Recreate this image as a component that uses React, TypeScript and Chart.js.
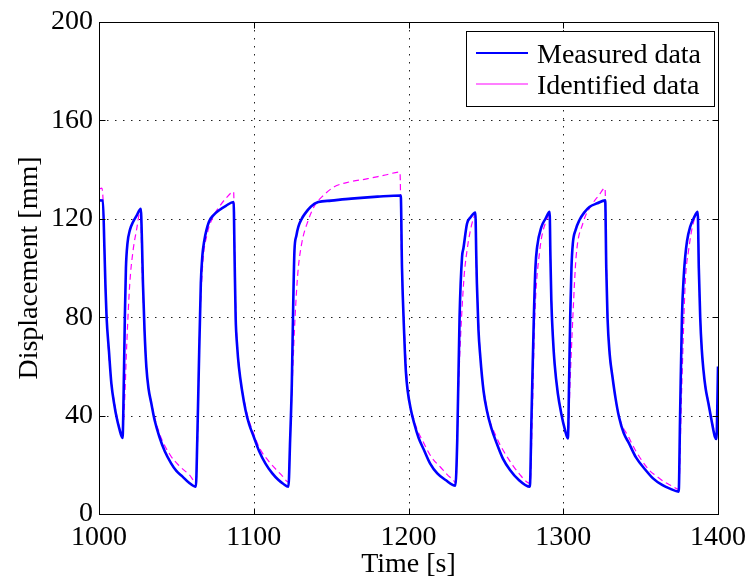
import React, { useEffect, useRef } from "react";
import { Chart, registerables } from "chart.js";

Chart.register(...registerables);

const measuredTime = [
  1000, 1002.5, 1003.5, 1004.2, 1004.9, 1006.4, 1008, 1010, 1011.3, 1013, 1015.2,
  1016.2, 1016.7, 1017.4, 1018.4, 1020, 1022, 1024.5, 1027,
  1027.8, 1028.4, 1029.4, 1030.6, 1032, 1033.8, 1036, 1039, 1042.5, 1046.6, 1050, 1054, 1058, 1062.6,
  1063.5, 1064.3, 1065.8, 1066.8, 1068, 1071, 1074, 1077.6, 1082, 1087,
  1087.6, 1088.3, 1089.3, 1090.4, 1092.5, 1094.7, 1097, 1100, 1103.5, 1107.5, 1112, 1116, 1119, 1122.4,
  1123.5, 1124.6, 1125.5, 1126.3, 1127.5, 1128.8, 1131, 1133, 1137, 1141.7, 1150, 1163, 1180, 1195,
  1195.8, 1197.2, 1198.3, 1199.4, 1201.5, 1203.7, 1206.5, 1210, 1214, 1218.6, 1224, 1230.3,
  1231.5, 1233, 1234.6, 1235.5, 1237.8, 1240, 1243.2,
  1243.8, 1244.2, 1245.2, 1246.4, 1248.5, 1250.6, 1253.5, 1257, 1261, 1265.6, 1271, 1278.4,
  1279.5, 1281, 1282, 1283.1, 1285.9, 1288.5, 1291.2,
  1291.7, 1292.3, 1293.3, 1294.4, 1296.5, 1298.7, 1301, 1303,
  1303.8, 1304.5, 1305.3, 1306.2, 1308, 1310.4, 1313.5, 1316.9, 1322, 1327.1,
  1327.8, 1328.6, 1330, 1331.8, 1333.8, 1336, 1339, 1342.5, 1347, 1353.2, 1358, 1363.9, 1369, 1374.6,
  1375.5, 1376.7, 1378, 1378.8, 1380, 1382, 1384.5, 1386.9,
  1387.6, 1388.5, 1389.5, 1390.6, 1392, 1393.8, 1396, 1398, 1399, 1399.6, 1400,
];
const measuredDisp = [
  127.5, 127.4, 108, 92, 80, 66.5, 53, 44, 39.5, 35, 30.9,
  60, 80, 100, 110, 115.5, 118.7, 121.5, 124.1,
  110, 93.8, 75, 59.8, 51, 45, 38, 31.4, 25.5, 20.6, 17.5, 15.2, 12.8, 11.1,
  30, 53, 93.8, 105, 111, 118.7, 121.5, 123.5, 125.3, 126.8,
  105, 80, 68, 59.8, 50, 42.2, 36.5, 31.4, 25.5, 20.6, 16.5, 13.8, 12.3, 11.1,
  30, 53, 85, 107, 113, 116.7, 120, 122, 125, 126.8, 127.4, 128.2, 129, 129.5,
  100, 73.4, 58, 50.4, 42.5, 36.8, 31, 26, 20.5, 16.5, 13.8, 11.5,
  30, 80, 104.5, 108, 118, 120.5, 122.5,
  105, 93.7, 75, 63.9, 50, 42.2, 35, 28.7, 22.5, 17.9, 14, 11.1,
  40, 80, 100, 108.5, 116.7, 120, 122.8,
  105, 86.9, 72, 61.2, 49, 40.9, 34.5, 30.7,
  55, 80, 100, 110, 115.5, 119.4, 122.5, 124.8, 126.3, 127.5,
  100, 80, 65, 55.8, 47, 39.5, 33, 28.7, 23, 17.9, 14.5, 11.8, 10.3, 9.1,
  40, 80, 98, 104.5, 111, 116.7, 120.5, 122.8,
  100, 80, 67, 58.5, 51, 45, 37.5, 31.4, 30.5, 45, 60,
];

const identifiedTime = [
  1000, 1001.8, 1002.6, 1003.5, 1004.5, 1006, 1008, 1010, 1012, 1015,
  1016.5, 1018, 1019.9, 1022, 1024.2, 1027,
  1027.6, 1028.4, 1030.6, 1033.8, 1039, 1046, 1052, 1058.3, 1062.6,
  1063.5, 1064.7, 1066.9, 1070, 1073.5, 1077.6, 1082, 1087,
  1087.6, 1088.3, 1090.4, 1094.7, 1100, 1104, 1109.6, 1118, 1122.4,
  1123.5, 1125, 1126.7, 1128.5, 1131, 1135, 1139.5, 1145, 1152, 1162, 1173.7, 1185, 1194.5,
  1195.3, 1196.5, 1197.5, 1199.4, 1203.7, 1210, 1215, 1220.7, 1225, 1229.3, 1230.5,
  1232.4, 1235.6, 1237.8, 1241, 1243.2,
  1243.8, 1244.5, 1246.4, 1250.6, 1257, 1262, 1267.7, 1272, 1277, 1278.6,
  1280, 1281.6, 1284.8, 1289.1, 1291.2,
  1291.7, 1292.3, 1294.4, 1298.7, 1303,
  1304.5, 1306.2, 1308.3, 1312.6, 1319, 1323, 1327,
  1327.8, 1328.6, 1331.8, 1336, 1342.5, 1347, 1355.3, 1360, 1366, 1370, 1374.6,
  1376.5, 1378.8, 1381, 1384.2, 1387,
  1387.6, 1388.5, 1390.6, 1393.8, 1396, 1398.5, 1399.3, 1400,
];
const identifiedDisp = [
  132, 132.5, 128, 108, 88, 68, 54, 45, 38.5, 31.5,
  45, 70, 93.8, 107, 115.3, 124,
  105, 90, 60, 45.5, 32.9, 24, 19.5, 16, 13,
  25, 66.6, 100.4, 114, 120.5, 124.8, 128.3, 131,
  110, 85, 61, 43.5, 32.5, 26.5, 21.5, 15.8, 13,
  30, 55, 80, 98, 110, 119, 125.5, 129.5, 133, 135, 136.3, 137.8, 139,
  110, 85, 72, 52, 38, 28.7, 23, 19, 16, 13.5, 12.5,
  53, 93.8, 107, 118, 121.5,
  100, 88, 64, 43, 31, 25, 19.5, 16, 12.8, 12.5,
  40, 80, 107, 119.4, 121.5,
  105, 88, 62, 41.5, 31,
  55, 80, 104.5, 118, 126.2, 129.5, 132.5,
  105, 82, 56.5, 40, 31, 25.5, 18, 15.5, 12.8, 11.5, 10,
  50, 93.7, 107.2, 118.7, 121.5,
  100, 80, 59, 45.5, 38, 32, 31, 45,
];

const xTickValues = [1000, 1100, 1200, 1300, 1400];
const yTickValues = [0, 40, 80, 120, 160, 200];
const seriesNames = ["Measured data", "Identified data"];
const xTitle = "Time [s]";
const yTitle = "Displacement [mm]";

const FONT = '"Liberation Serif", "Times New Roman", Times, serif';

const framePlugin = {
  id: "matlabFrame",
  beforeDatasetsDraw(chart: any) {
    const { ctx, chartArea: a, scales } = chart;
    const xs = scales.x;
    const ys = scales.y;
    ctx.save();
    ctx.strokeStyle = "#222";
    ctx.lineWidth = 1;
    ctx.setLineDash([1.5, 6.5]);
    for (const v of xTickValues.slice(1, -1)) {
      const px = Math.round(xs.getPixelForValue(v)) + 0.5;
      ctx.beginPath();
      ctx.moveTo(px, a.top);
      ctx.lineTo(px, a.bottom);
      ctx.stroke();
    }
    for (const v of yTickValues.slice(1, -1)) {
      const py = Math.round(ys.getPixelForValue(v)) + 0.5;
      ctx.beginPath();
      ctx.moveTo(a.left, py);
      ctx.lineTo(a.right, py);
      ctx.stroke();
    }
    ctx.restore();
  },
  afterDatasetsDraw(chart: any) {
    const { ctx, chartArea: a, scales } = chart;
    const xs = scales.x;
    const ys = scales.y;
    ctx.save();
    ctx.setLineDash([]);
    ctx.strokeStyle = "#000";
    ctx.lineWidth = 1;
    const L = Math.round(a.left) + 0.5;
    const R = Math.round(a.right) + 0.5;
    const T = Math.round(a.top) + 0.5;
    const B = Math.round(a.bottom) + 0.5;
    ctx.strokeRect(L, T, R - L, B - T);
    const tl = 6;
    ctx.beginPath();
    for (const v of xTickValues.slice(1, -1)) {
      const px = Math.round(xs.getPixelForValue(v)) + 0.5;
      ctx.moveTo(px, B);
      ctx.lineTo(px, B - tl);
      ctx.moveTo(px, T);
      ctx.lineTo(px, T + tl);
    }
    for (const v of yTickValues.slice(1, -1)) {
      const py = Math.round(ys.getPixelForValue(v)) + 0.5;
      ctx.moveTo(L, py);
      ctx.lineTo(L + tl, py);
      ctx.moveTo(R, py);
      ctx.lineTo(R - tl, py);
    }
    ctx.stroke();

    // legend box
    const bx = 466.5, by = 31.5, bw = 248, bh = 75;
    ctx.fillStyle = "#fff";
    ctx.fillRect(bx, by, bw, bh);
    ctx.strokeRect(bx, by, bw, bh);
    const ds = chart.data.datasets;
    const rows = [63, 94];
    ds.forEach((d: any, i: number) => {
      const ly = rows[i] - 10;
      ctx.strokeStyle = d.borderColor;
      ctx.lineWidth = i === 0 ? 2 : 1.2;
      ctx.beginPath();
      ctx.moveTo(476, ly);
      ctx.lineTo(528, ly);
      ctx.stroke();
      ctx.fillStyle = "#000";
      ctx.font = `28px ${FONT}`;
      ctx.textBaseline = "alphabetic";
      ctx.textAlign = "left";
      ctx.fillText(d.label, 537, rows[i]);
    });
    ctx.restore();
  },
};

export default function App() {
  const ref = useRef<HTMLCanvasElement>(null);
  useEffect(() => {
    if (!ref.current) return;
    const chart = new Chart(ref.current, {
      type: "line",
      data: {
        datasets: [
          {
            label: seriesNames[0],
            data: measuredTime.map((t, i) => ({ x: t, y: measuredDisp[i] })),
            borderColor: "#0000ff",
            borderWidth: 2.6,
            pointRadius: 0,
            cubicInterpolationMode: "monotone",
            fill: false,
          },
          {
            label: seriesNames[1],
            data: identifiedTime.map((t, i) => ({ x: t, y: identifiedDisp[i] })),
            borderColor: "#ff00ff",
            borderWidth: 1.2,
            borderDash: [6, 4],
            pointRadius: 0,
            cubicInterpolationMode: "monotone",
            fill: false,
          },
        ],
      },
      options: {
        responsive: false,
        animation: false,
        layout: { padding: { top: 22, right: 33, left: 0, bottom: 0 } },
        plugins: { legend: { display: false }, tooltip: { enabled: false } },
        scales: {
          x: {
            type: "linear",
            min: 1000,
            max: 1400,
            afterFit: (s: any) => { s.height = 65; },
            afterBuildTicks: (s: any) => { s.ticks = xTickValues.map((v) => ({ value: v })); },
            grid: { display: false, drawTicks: false },
            border: { display: false },
            ticks: {
              color: "#000",
              font: { family: FONT, size: 28, lineHeight: 1 },
              padding: 10,
              maxRotation: 0,
              autoSkip: false,
              callback: (v: any) => String(v),
            },
            title: {
              display: true,
              text: xTitle,
              color: "#000",
              font: { family: FONT, size: 28, lineHeight: 1 },
              padding: { top: 0, bottom: 0 },
            },
          },
          y: {
            type: "linear",
            min: 0,
            max: 200,
            afterFit: (s: any) => { s.width = 99; },
            afterBuildTicks: (s: any) => { s.ticks = yTickValues.map((v) => ({ value: v })); },
            grid: { display: false, drawTicks: false },
            border: { display: false },
            ticks: {
              color: "#000",
              font: { family: FONT, size: 28, lineHeight: 1 },
              padding: 6,
              autoSkip: false,
              callback: (v: any) => String(v),
            },
            title: {
              display: true,
              text: yTitle,
              color: "#000",
              font: { family: FONT, size: 28, lineHeight: 1 },
              padding: { top: 16, bottom: 0 },
            },
          },
        },
      },
      plugins: [framePlugin],
    } as any);
    return () => chart.destroy();
  }, []);
  return (
    <div style={{ position: "absolute", left: 0, top: 0, width: 756, height: 579, background: "#fff" }}>
      <canvas ref={ref} width={756} height={579} />
    </div>
  );
}
